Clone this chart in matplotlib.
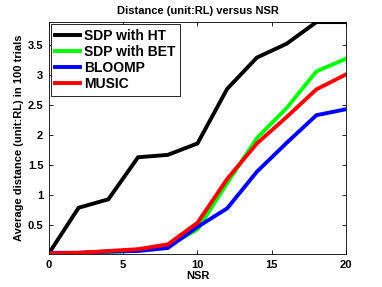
import matplotlib
matplotlib.use("Agg")
import matplotlib.pyplot as plt

nsr = [0, 2, 4, 6, 8, 10, 12, 14, 16, 18, 20]
sdp_ht = [0.03, 0.79, 0.93, 1.63, 1.67, 1.86, 2.77, 3.29, 3.52, 3.88, 3.88]
sdp_bet = [0.02, 0.03, 0.05, 0.08, 0.15, 0.43, 1.2, 1.95, 2.45, 3.06, 3.27]
bloomp = [0.04, 0.04, 0.06, 0.07, 0.12, 0.47, 0.78, 1.39, 1.87, 2.33, 2.43]
music = [0.03, 0.04, 0.07, 0.1, 0.18, 0.54, 1.27, 1.86, 2.3, 2.76, 3.01]

labels = ["SDP with HT", "SDP with BET", "BLOOMP", "MUSIC"]
colors = ["black", "#00ff00", "blue", "red"]

plt.rcParams['font.family'] = ['Liberation Sans', 'DejaVu Sans']
plt.rcParams['font.weight'] = 'bold'

fig = plt.figure(figsize=(3.82, 2.87), dpi=100)
ax = fig.add_axes([0.128, 0.115, 0.778, 0.808])

for y, lab, c in zip([sdp_ht, sdp_bet, bloomp, music], labels, colors):
    ax.plot(nsr, y, color=c, lw=2.8, label=lab, solid_joinstyle='miter')

ax.set_xlim(0, 20)
ax.set_ylim(0.02, 3.88)
ax.set_xticks([0, 5, 10, 15, 20])
ax.set_yticks([0.5, 1, 1.5, 2, 2.5, 3, 3.5])
ax.set_yticklabels(["0.5", "1", "1.5", "2", "2.5", "3", "3.5"])
ax.tick_params(direction='in', top=True, right=True, labelsize=8, length=3, width=0.6, pad=4)
for lbl in ax.get_xticklabels() + ax.get_yticklabels():
    lbl.set_fontweight('bold')
for s in ax.spines.values():
    s.set_linewidth(0.6)

ax.set_title("Distance (unit:RL) versus NSR", fontsize=8, fontweight='bold', pad=6)
ax.set_xlabel("NSR", fontsize=8, fontweight='bold', labelpad=1)
ax.set_ylabel("Average distance (unit:RL) in 100 trials", fontsize=8, fontweight='bold', labelpad=3)

leg = ax.legend(loc='upper left', frameon=True, fancybox=False,
                edgecolor='black', framealpha=1, handlelength=1.75,
                borderaxespad=0.12, labelspacing=0.15, handletextpad=0.3,
                borderpad=0.35, prop={'weight': 'bold', 'size': 10})
leg.get_frame().set_linewidth(0.6)

fig.savefig("out.png", dpi=100)
